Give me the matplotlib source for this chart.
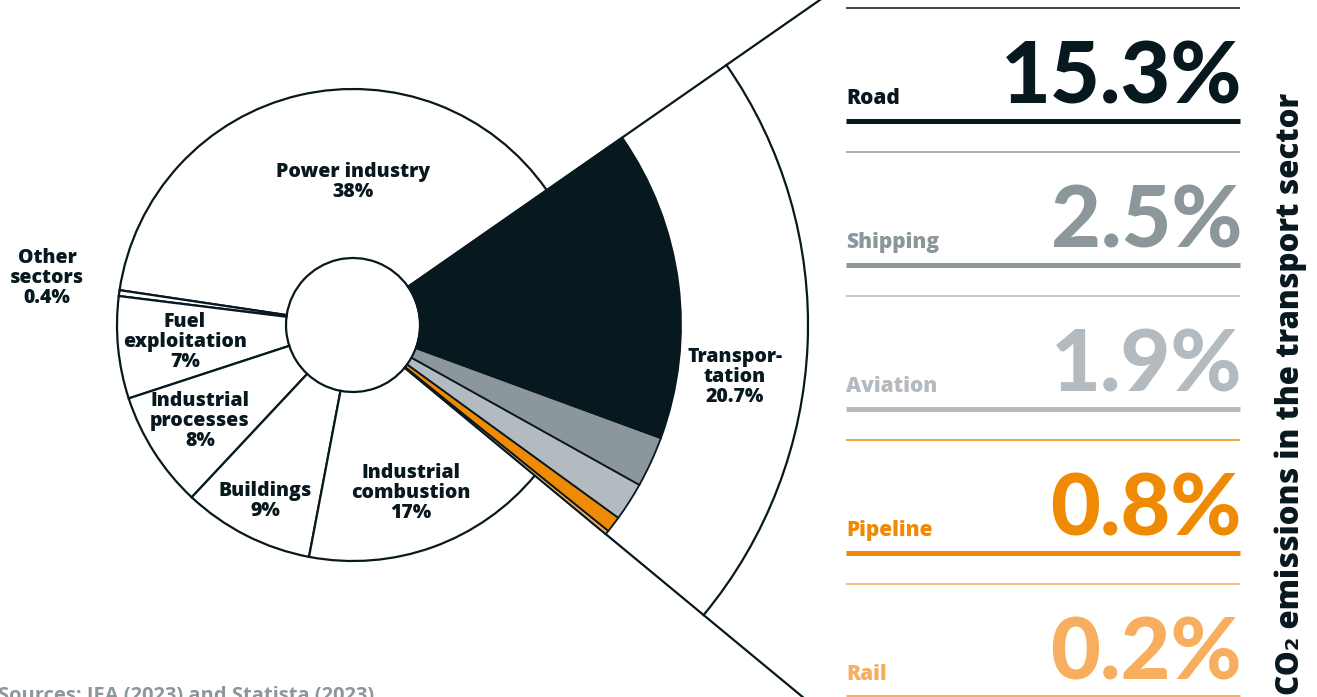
import numpy as np
import matplotlib.pyplot as plt

# share of global CO2 emissions by sector (%)
sectors = ["Transportation", "Power industry", "Other sectors", "Fuel exploitation",
           "Industrial processes", "Buildings", "Industrial combustion"]
sector_text = ["Transpor-\ntation", "Power industry", "Other\nsectors", "Fuel\nexploitation",
               "Industrial\nprocesses", "Buildings", "Industrial\ncombustion"]
sector_shares = [20.7, 38, 0.4, 7, 8, 9, 17]
sector_pct = ["20.7%", "38%", "0.4%", "7%", "8%", "9%", "17%"]

# breakdown of the transport sector (%)
modes = ["Road", "Shipping", "Aviation", "Pipeline", "Rail"]
mode_shares = [15.3, 2.5, 1.9, 0.8, 0.2]
mode_pct = ["15.3%", "2.5%", "1.9%", "0.8%", "0.2%"]

dark = "#08181f"
mode_colors = [dark, "#8c979c", "#b3bac0", "#ef8a05", "#f7ae5e"]

W, H = 1317, 697
fig = plt.figure(figsize=(W / 100, H / 100), dpi=100)
ax = fig.add_axes([0, 0, 1, 1])

font = ["Open Sans", "DejaVu Sans"]
num_font = ["Lato", "DejaVu Sans"]
cx, cy = 353, H - 325
r_in, r_out, r_tr, r_sub = 67, 236, 455, 328
start = -39.6

wedges, _ = ax.pie(sector_shares, radius=r_out, center=(cx, cy), startangle=start,
                   colors=["white"] * len(sector_shares),
                   wedgeprops=dict(width=r_out - r_in, edgecolor=dark, linewidth=1.6))
# transportation pulled out to a larger radius
wedges[0].set_radius(r_tr)
wedges[0].set_width(r_tr - r_in)

rest = sum(sector_shares) - sum(mode_shares)
sub, _ = ax.pie(mode_shares[::-1] + [rest], radius=r_sub, center=(cx, cy), startangle=start,
                colors=mode_colors[::-1] + ["white"],
                wedgeprops=dict(width=r_sub - r_in, edgecolor=dark, linewidth=1.3))
sub[-1].set_visible(False)
for w in sub:
    w.set_zorder(3)

# guide lines continuing the transportation edges
for th in (wedges[0].theta1, wedges[0].theta2):
    t = np.radians(th)
    ax.plot([cx + r_tr * np.cos(t), cx + 800 * np.cos(t)],
            [cy + r_tr * np.sin(t), cy + 800 * np.sin(t)], color=dark, lw=1.6)

label_pos = [(735, 377), (353, 182), (47, 278), (185, 342), (200, 421), (265, 501), (411, 493)]
for name, pct, (x, y) in zip(sector_text, sector_pct, label_pos):
    ax.text(x, H - y, name + "\n" + pct, ha="center", va="center", fontsize=14,
            fontweight="heavy", color=dark, family=font, linespacing=1.02, zorder=5)

# right panel
x0, x1 = 846, 1240
for i, (m, p, c) in enumerate(zip(modes, mode_pct, mode_colors)):
    top = 8 + 144 * i
    ax.plot([x0, x1], [H - top, H - top], color=c, lw=1.1, solid_capstyle="butt")
    ax.plot([x0, x1], [H - top - 113, H - top - 113], color=c, lw=3.6, solid_capstyle="butt")
    ax.text(x0, H - top - 96, m, ha="left", va="baseline", fontsize=15,
            fontweight="heavy", color=c, family=font)
    ax.text(x1 + 2, H - top - 95, p, ha="right", va="baseline", fontsize=62,
            fontweight="black", color=c, family=num_font)

ax.text(1291, 2, "CO₂ emissions in the transport sector", rotation=90, ha="center",
        va="bottom", fontsize=22.5, fontweight="heavy", color=dark, family=font)

ax.text(-2, -4, "Sources: IEA (2023) and Statista (2023)", ha="left", va="baseline",
        fontsize=14.5, fontweight="bold", color="#8c979c", family=font)

ax.set_xlim(0, W)
ax.set_ylim(0, H)
ax.set_aspect("auto")
ax.axis("off")
fig.savefig("out.png", dpi=100)
